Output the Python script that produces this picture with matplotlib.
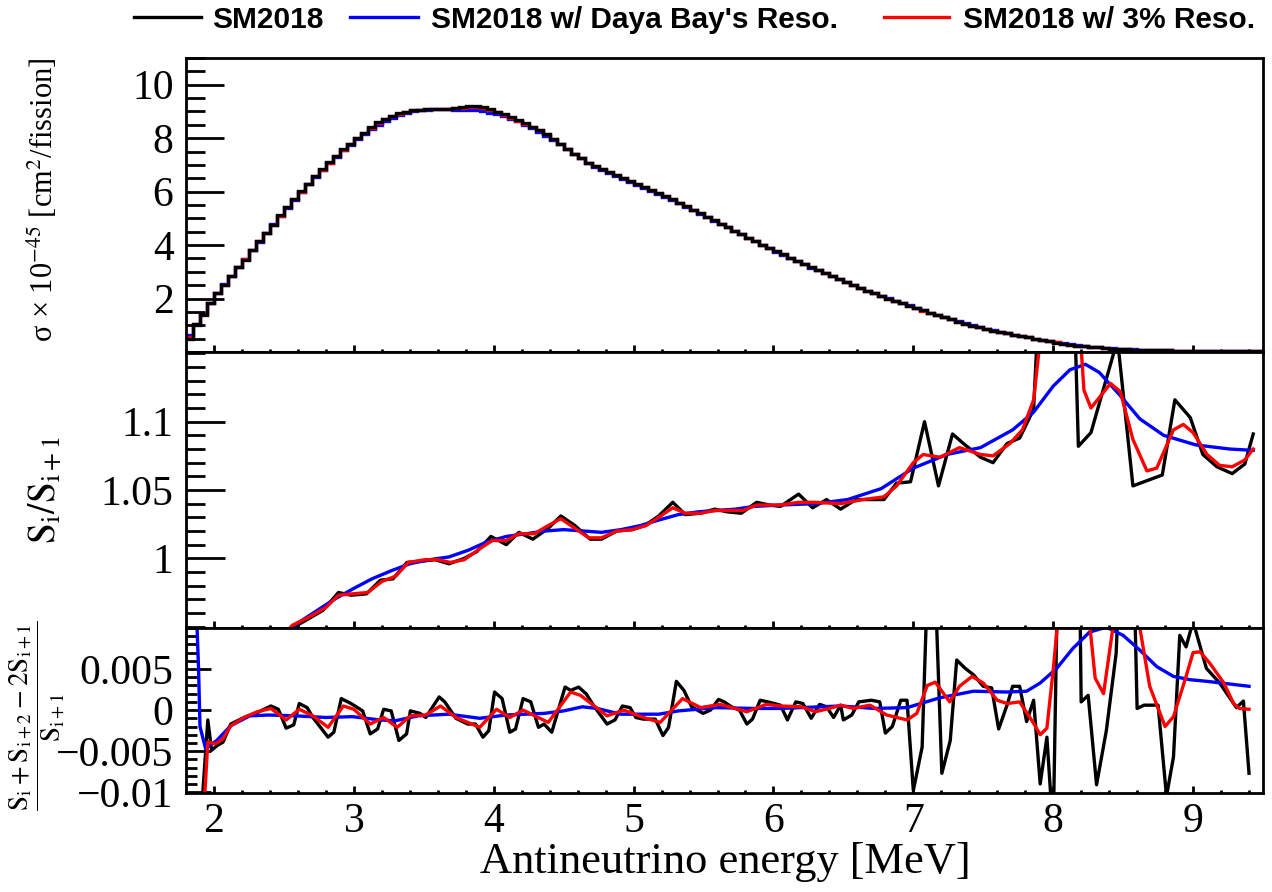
import numpy as np
import matplotlib
matplotlib.use("Agg")
import matplotlib.pyplot as plt
from matplotlib.lines import Line2D
from matplotlib.ticker import MultipleLocator, FixedLocator, FuncFormatter

plt.rcParams['font.family'] = ['Liberation Serif', 'DejaVu Serif']
plt.rcParams['mathtext.fontset'] = 'stix'
plt.rcParams['axes.unicode_minus'] = True

# ---------------- data ----------------
E_LO, E_HI, BIN_W = 1.80, 9.50, 0.05

top_sm2018 = [
    0.50, 1.06, 1.40, 1.85, 2.19, 2.52, 2.83, 3.19, 3.46, 3.80,
    4.14, 4.47, 4.77, 5.11, 5.41, 5.71, 6.01, 6.30, 6.58, 6.83,
    7.11, 7.33, 7.58, 7.80, 8.02, 8.21, 8.40, 8.59, 8.71, 8.83,
    8.93, 8.99, 9.04, 9.07, 9.09, 9.10, 9.11, 9.11, 9.12, 9.16,
    9.19, 9.19, 9.15, 9.08, 8.99, 8.89, 8.78, 8.67, 8.55, 8.43,
    8.30, 8.15, 7.98, 7.80, 7.61, 7.42, 7.24, 7.08, 6.95, 6.84,
    6.73, 6.62, 6.51, 6.40, 6.29, 6.18, 6.07, 5.95, 5.83, 5.71,
    5.58, 5.45, 5.32, 5.19, 5.06, 4.93, 4.80, 4.67, 4.54, 4.41,
    4.28, 4.15, 4.02, 3.89, 3.77, 3.65, 3.53, 3.41, 3.29, 3.17,
    3.05, 2.94, 2.83, 2.72, 2.61, 2.50, 2.40, 2.30, 2.20, 2.10,
    2.00, 1.91, 1.82, 1.73, 1.64, 1.56, 1.45, 1.38, 1.31, 1.22,
    1.14, 1.06, 0.99, 0.92, 0.86, 0.80, 0.75, 0.70, 0.65, 0.60,
    0.55, 0.50, 0.45, 0.40, 0.35, 0.31, 0.27, 0.23, 0.21, 0.19,
    0.17, 0.15, 0.13, 0.11, 0.10, 0.09, 0.08, 0.075, 0.07, 0.065,
    0.06, 0.054, 0.048, 0.044, 0.04, 0.037, 0.034, 0.032, 0.03, 0.028,
    0.026, 0.024, 0.022, 0.02]

top_dyb = [
    0.62, 1.02, 1.43, 1.83, 2.20, 2.53, 2.85, 3.18, 3.49, 3.81,
    4.13, 4.45, 4.78, 5.09, 5.40, 5.70, 5.99, 6.28, 6.55, 6.81,
    7.07, 7.31, 7.54, 7.76, 7.97, 8.16, 8.34, 8.51, 8.65, 8.77,
    8.87, 8.95, 9.01, 9.05, 9.07, 9.08, 9.08, 9.08, 9.07, 9.07,
    9.06, 9.04, 9.01, 8.96, 8.90, 8.82, 8.73, 8.63, 8.51, 8.39,
    8.25, 8.10, 7.94, 7.77, 7.59, 7.41, 7.24, 7.08, 6.94, 6.82,
    6.70, 6.59, 6.48, 6.37, 6.26, 6.15, 6.04, 5.92, 5.80, 5.68,
    5.56, 5.44, 5.31, 5.18, 5.05, 4.92, 4.79, 4.66, 4.53, 4.40,
    4.27, 4.14, 4.01, 3.88, 3.76, 3.64, 3.52, 3.40, 3.28, 3.16,
    3.05, 2.94, 2.83, 2.72, 2.61, 2.50, 2.40, 2.30, 2.20, 2.10,
    2.01, 1.92, 1.83, 1.74, 1.65, 1.56, 1.47, 1.39, 1.31, 1.23,
    1.15, 1.07, 1.00, 0.93, 0.87, 0.81, 0.75, 0.70, 0.65, 0.60,
    0.55, 0.50, 0.46, 0.42, 0.38, 0.34, 0.30, 0.26, 0.23, 0.20,
    0.18, 0.16, 0.14, 0.12, 0.11, 0.10, 0.09, 0.08, 0.07, 0.065,
    0.06, 0.055, 0.05, 0.046, 0.042, 0.038, 0.035, 0.032, 0.03, 0.028,
    0.026, 0.024, 0.022, 0.02]

top_3pct = [
    0.55, 1.05, 1.41, 1.85, 2.19, 2.52, 2.84, 3.18, 3.47, 3.80,
    4.14, 4.46, 4.77, 5.10, 5.41, 5.71, 6.00, 6.29, 6.57, 6.82,
    7.09, 7.33, 7.57, 7.79, 8.00, 8.20, 8.38, 8.56, 8.70, 8.82,
    8.92, 8.99, 9.04, 9.07, 9.09, 9.10, 9.11, 9.11, 9.12, 9.14,
    9.16, 9.16, 9.13, 9.07, 8.98, 8.88, 8.77, 8.66, 8.54, 8.42,
    8.29, 8.14, 7.97, 7.79, 7.60, 7.42, 7.24, 7.08, 6.95, 6.84,
    6.73, 6.62, 6.51, 6.40, 6.29, 6.18, 6.07, 5.95, 5.83, 5.71,
    5.58, 5.45, 5.32, 5.19, 5.06, 4.93, 4.80, 4.67, 4.54, 4.41,
    4.28, 4.15, 4.02, 3.89, 3.77, 3.65, 3.53, 3.41, 3.29, 3.17,
    3.05, 2.94, 2.83, 2.72, 2.61, 2.50, 2.40, 2.30, 2.20, 2.10,
    2.00, 1.91, 1.82, 1.73, 1.64, 1.55, 1.46, 1.38, 1.30, 1.22,
    1.14, 1.06, 0.99, 0.92, 0.86, 0.80, 0.75, 0.70, 0.65, 0.60,
    0.55, 0.50, 0.45, 0.40, 0.36, 0.31, 0.27, 0.24, 0.21, 0.19,
    0.17, 0.15, 0.13, 0.11, 0.10, 0.09, 0.08, 0.075, 0.07, 0.065,
    0.06, 0.054, 0.048, 0.044, 0.04, 0.037, 0.034, 0.032, 0.03, 0.028,
    0.026, 0.024, 0.022, 0.02]

# ratio S_i / S_{i+1}
ratio_sm2018_E = [2.45, 2.56, 2.68, 2.78, 2.89, 2.98, 3.09, 3.19, 3.28, 3.38,
                  3.49, 3.58, 3.68, 3.79, 3.88, 3.98, 4.09, 4.18, 4.28, 4.39,
                  4.48, 4.58, 4.69, 4.77, 4.88, 4.99, 5.08, 5.18, 5.28, 5.37,
                  5.48, 5.58, 5.67, 5.77, 5.88, 5.97, 6.05, 6.18, 6.28, 6.38,
                  6.48, 6.59, 6.68, 6.79, 6.88, 6.98, 7.08, 7.18, 7.28, 7.37,
                  7.48, 7.57, 7.67, 7.76, 7.86, 7.95, 8.12, 8.18, 8.27, 8.46,
                  8.57, 8.78, 8.87, 8.98, 9.07, 9.17, 9.28, 9.37, 9.43]
ratio_sm2018 = [0.935, 0.949, 0.956, 0.962, 0.975, 0.973, 0.974, 0.984, 0.985, 0.997,
                0.998, 0.999, 0.996, 1.000, 1.005, 1.016, 1.010, 1.019, 1.014, 1.022,
                1.031, 1.024, 1.014, 1.014, 1.020, 1.021, 1.024, 1.031, 1.041, 1.032,
                1.033, 1.036, 1.034, 1.033, 1.041, 1.039, 1.038, 1.047, 1.037, 1.043,
                1.036, 1.043, 1.043, 1.043, 1.055, 1.056, 1.100, 1.053, 1.091, 1.083,
                1.074, 1.070, 1.084, 1.088, 1.109, 1.300, 1.300, 1.082, 1.092, 1.160,
                1.053, 1.061, 1.116, 1.103, 1.076, 1.067, 1.062, 1.069, 1.091]

ratio_dyb_E = [2.50, 2.56, 2.71, 2.86, 3.00, 3.13, 3.27, 3.40, 3.54, 3.68,
               3.82, 3.95, 4.09, 4.23, 4.37, 4.50, 4.64, 4.77, 4.91, 5.05,
               5.18, 5.32, 5.46, 5.59, 5.73, 5.86, 6.05, 6.30, 6.53, 6.77,
               7.00, 7.24, 7.48, 7.71, 7.86, 8.00, 8.12, 8.23, 8.33, 8.48,
               8.62, 8.79, 9.02, 9.26, 9.43]
ratio_dyb = [0.940, 0.950, 0.960, 0.970, 0.978, 0.985, 0.991, 0.996, 0.999, 1.001,
             1.006, 1.012, 1.016, 1.018, 1.020, 1.021, 1.020, 1.019, 1.021, 1.024,
             1.028, 1.032, 1.034, 1.035, 1.036, 1.038, 1.039, 1.040, 1.043, 1.051,
             1.066, 1.076, 1.081, 1.094, 1.107, 1.126, 1.138, 1.142, 1.136, 1.119,
             1.102, 1.090, 1.083, 1.080, 1.079]

ratio_3pct_E = [2.45, 2.56, 2.68, 2.80, 2.89, 2.99, 3.10, 3.20, 3.30, 3.39,
                3.51, 3.60, 3.69, 3.79, 3.90, 3.99, 4.09, 4.18, 4.29, 4.39,
                4.48, 4.58, 4.68, 4.77, 4.88, 4.99, 5.09, 5.18, 5.28, 5.37,
                5.48, 5.58, 5.67, 5.78, 5.88, 5.97, 6.05, 6.18, 6.29, 6.48,
                6.64, 6.79, 6.88, 7.00, 7.07, 7.19, 7.33, 7.48, 7.57, 7.69,
                7.78, 7.86, 7.95, 8.17, 8.22, 8.27, 8.41, 8.48, 8.57, 8.67,
                8.74, 8.86, 8.93, 9.00, 9.10, 9.19, 9.28, 9.37, 9.43]
ratio_3pct = [0.938, 0.951, 0.957, 0.964, 0.973, 0.974, 0.975, 0.983, 0.987, 0.997,
              0.999, 0.999, 0.997, 0.999, 1.007, 1.013, 1.013, 1.018, 1.018, 1.024,
              1.029, 1.022, 1.015, 1.015, 1.020, 1.021, 1.024, 1.030, 1.037, 1.033,
              1.033, 1.035, 1.035, 1.035, 1.039, 1.039, 1.039, 1.041, 1.041, 1.040,
              1.043, 1.045, 1.053, 1.070, 1.076, 1.074, 1.081, 1.076, 1.075, 1.084,
              1.094, 1.116, 1.200, 1.200, 1.123, 1.110, 1.128, 1.122, 1.087, 1.064,
              1.066, 1.094, 1.098, 1.092, 1.076, 1.068, 1.067, 1.072, 1.080]

# second difference (S_i + S_{i+2} - 2 S_{i+1}) / S_{i+1}
d2_sm2018_E = [1.90, 1.956, 1.983, 2.024, 2.065, 2.12, 2.215, 2.31, 2.407, 2.46,
               2.516, 2.57, 2.61, 2.666, 2.707, 2.816, 2.857, 2.91, 2.98, 3.063,
               3.117, 3.17, 3.213, 3.267, 3.322, 3.377, 3.404, 3.473, 3.514, 3.61,
               3.65, 3.73, 3.814, 3.87, 3.923, 3.965, 4.006, 4.06, 4.115, 4.156,
               4.21, 4.265, 4.32, 4.36, 4.415, 4.51, 4.55, 4.607, 4.66, 4.716,
               4.81, 4.867, 4.92, 4.975, 5.016, 5.07, 5.155, 5.21, 5.25, 5.306,
               5.36, 5.415, 5.497, 5.55, 5.607, 5.648, 5.70, 5.757, 5.81, 5.85,
               5.905, 5.96, 6.05, 6.10, 6.16, 6.21, 6.27, 6.33, 6.38, 6.43,
               6.48, 6.50, 6.56, 6.61, 6.70, 6.76, 6.80, 6.85, 6.91, 6.955,
               7.00, 7.063, 7.10, 7.157, 7.204, 7.264, 7.31, 7.37, 7.43, 7.50,
               7.56, 7.61, 7.67, 7.71, 7.76, 7.81, 7.86, 7.907, 7.955, 8.00,
               8.03, 8.19, 8.20, 8.25, 8.31, 8.38, 8.45, 8.47, 8.58, 8.60,
               8.65, 8.75, 8.81, 8.86, 8.905, 8.95, 9.00, 9.095, 9.19, 9.31,
               9.36, 9.40]
d2_sm2018 = [-0.015, -0.0012, -0.0049, -0.0043, -0.0039, -0.0017, -0.0009, -0.0003, 0.0005, 0.0001,
             -0.0022, -0.0018, 0.0008, 0.0003, -0.0009, -0.0033, -0.0027, 0.0014, 0.0008, -0.0001,
             -0.0029, -0.0023, 0.0001, -0.0001, -0.0037, -0.0029, -0.0001, -0.0004, -0.0009, 0.0016,
             0.0010, -0.0010, -0.0017, -0.0017, -0.0033, -0.0025, 0.0022, 0.0014, -0.0027, -0.0023,
             0.0014, 0.0010, -0.0021, -0.0017, -0.0027, 0.0028, 0.0024, 0.0028, 0.0020, 0.0005,
             -0.0017, -0.0012, 0.0005, 0.0003, -0.0009, -0.0011, -0.0011, -0.0031, -0.0021, 0.0035,
             0.0024, 0.0004, -0.0004, 0.0000, 0.0013, 0.0010, 0.0004, 0.0000, -0.0017, -0.0011,
             0.0012, 0.0010, 0.0006, -0.0012, 0.0010, 0.0008, -0.0010, 0.0007, 0.0004, -0.0009,
             0.0006, -0.0012, -0.0006, 0.0010, 0.0012, 0.0010, -0.0028, -0.0020, 0.0012, 0.0012,
             -0.0098, -0.0045, 0.0150, 0.0150, -0.0077, -0.0037, 0.0061, 0.0051, 0.0043, 0.0029,
             0.0027, -0.0023, 0.0006, 0.0029, 0.0029, -0.0014, 0.0012, -0.0090, -0.0033, -0.0150,
             0.0150, 0.0150, 0.0010, 0.0018, -0.0091, -0.0025, 0.0069, 0.0150, 0.0150, 0.0002,
             0.0006, 0.0006, -0.0105, -0.0057, 0.0091, 0.0077, 0.0108, 0.0051, 0.0033, 0.0003,
             0.0011, -0.0077]

d2_dyb_E = [1.87, 1.875, 1.89, 1.90, 1.94, 2.02, 2.12, 2.256, 2.39, 2.585,
            2.80, 2.99, 3.186, 3.296, 3.46, 3.677, 3.90, 4.088, 4.36, 4.50,
            4.634, 4.74, 4.907, 5.18, 5.32, 5.59, 5.86, 6.05, 6.48, 6.72,
            6.955, 7.19, 7.43, 7.67, 7.81, 7.907, 8.026, 8.14, 8.26, 8.38,
            8.50, 8.62, 8.74, 8.86, 8.98, 9.10, 9.40]
d2_dyb = [0.015, 0.012, 0.0049, -0.0020, -0.0047, -0.0037, -0.0019, -0.0007, -0.0006, -0.0007,
          -0.0009, -0.0008, -0.0012, -0.0013, -0.0007, -0.0005, -0.0010, -0.0006, -0.0004, -0.0001,
          0.0004, 0.0002, -0.0005, -0.0005, -0.0001, 0.0003, 0.0002, 0.0002, 0.0005, 0.0002,
          0.0003, 0.0015, 0.0023, 0.0022, 0.0023, 0.0033, 0.0051, 0.0075, 0.0095, 0.0101,
          0.0091, 0.0073, 0.0053, 0.0041, 0.0037, 0.0035, 0.0029]

d2_3pct_E = [1.925, 1.956, 2.01, 2.065, 2.12, 2.215, 2.31, 2.407, 2.516, 2.61,
             2.707, 2.816, 2.925, 3.00, 3.117, 3.213, 3.31, 3.404, 3.514, 3.62,
             3.73, 3.90, 4.02, 4.115, 4.21, 4.39, 4.55, 4.62, 4.81, 4.93,
             5.07, 5.19, 5.35, 5.48, 5.62, 5.81, 5.95, 6.05, 6.20, 6.30,
             6.40, 6.48, 6.57, 6.69, 6.81, 6.955, 7.025, 7.10, 7.157, 7.26,
             7.33, 7.42, 7.50, 7.60, 7.67, 7.76, 7.86, 7.907, 7.955, 8.00,
             8.05, 8.24, 8.30, 8.36, 8.46, 8.58, 8.69, 8.80, 8.86, 8.95,
             9.00, 9.05, 9.12, 9.22, 9.29, 9.33, 9.40]
d2_3pct = [-0.013, -0.0039, -0.0041, -0.0035, -0.0019, -0.0009, -0.0002, 0.0002, -0.0012, 0.0001,
           -0.0007, -0.0021, 0.0005, 0.0001, -0.0017, -0.0009, -0.0021, -0.0007, -0.0006, 0.0005,
           -0.0009, -0.0021, 0.0001, -0.0009, 0.0000, -0.0015, 0.0022, 0.0018, -0.0007, 0.0000,
           -0.0009, -0.0015, 0.0014, 0.0003, 0.0007, -0.0002, 0.0007, 0.0005, 0.0004, -0.0002,
           0.0002, 0.0006, 0.0002, 0.0006, -0.0006, -0.0012, -0.0004, 0.0030, 0.0034, 0.0010,
           0.0029, 0.0041, 0.0033, 0.0012, 0.0008, 0.0010, -0.0016, -0.0030, -0.0022, 0.0049,
           0.0140, 0.0140, 0.0039, 0.0020, 0.0140, 0.0140, 0.0029, -0.0020, -0.0008, 0.0041,
           0.0070, 0.0071, 0.0057, 0.0033, 0.0008, 0.0002, 0.0001]

legend_labels = ["SM2018", "SM2018 w/ Daya Bay's Reso.", "SM2018 w/ 3% Reso."]
colors = ['#000000', '#0000ff', '#ff0000']

x_major = [2, 3, 4, 5, 6, 7, 8, 9]
top_yticks = [2, 4, 6, 8, 10]
mid_yticks = [1.0, 1.05, 1.1]
bot_yticks = [-0.01, -0.005, 0.0, 0.005]

# ---------------- figure ----------------
W, H = 1272, 892
fig = plt.figure(figsize=(W / 100, H / 100), dpi=100)
L, R = 186 / W, 1263 / W


def fy(px):
    return 1 - px / H


ax1 = fig.add_axes([L, fy(352), R - L, fy(58) - fy(352)])
ax2 = fig.add_axes([L, fy(628), R - L, fy(352) - fy(628)])
ax3 = fig.add_axes([L, fy(793), R - L, fy(628) - fy(793)])

edges = np.linspace(E_LO, E_HI, len(top_sm2018) + 1)
LW = 2.4
ax1.stairs(top_dyb, edges, baseline=None, color=colors[1], lw=LW)
ax1.stairs(top_3pct, edges, baseline=None, color=colors[2], lw=LW)
ax1.stairs(top_sm2018, edges, baseline=None, color=colors[0], lw=LW)

ax2.plot(ratio_sm2018_E, ratio_sm2018, color=colors[0], lw=LW)
ax2.plot(ratio_dyb_E, ratio_dyb, color=colors[1], lw=LW)
ax2.plot(ratio_3pct_E, ratio_3pct, color=colors[2], lw=LW)

ax3.plot(d2_sm2018_E, d2_sm2018, color=colors[0], lw=LW)
ax3.plot(d2_dyb_E, d2_dyb, color=colors[1], lw=LW)
ax3.plot(d2_3pct_E, d2_3pct, color=colors[2], lw=LW)

ax1.set_ylim(0, 11)
ax2.set_ylim(0.949, 1.151)
ax3.set_ylim(-0.0101, 0.0100)

TICKFS = 30


def fmt(v, pos):
    s = f"{v:g}"
    return s.replace('-', '\u2212')


for ax, yt, ymin, ymaj_len, ymin_len in [
        (ax1, top_yticks, 0.5, 27, 14),
        (ax2, mid_yticks, 0.01, 28, 14),
        (ax3, bot_yticks, 0.001, 18, 8)]:
    ax.set_xlim(E_LO, E_HI)
    ax.xaxis.set_major_locator(FixedLocator(x_major))
    ax.xaxis.set_minor_locator(MultipleLocator(0.2))
    ax.yaxis.set_major_locator(FixedLocator(yt))
    ax.yaxis.set_minor_locator(MultipleLocator(ymin))
    ax.yaxis.set_major_formatter(FuncFormatter(fmt))
    for s in ax.spines.values():
        s.set_linewidth(2.0)
    ax.tick_params(axis='y', which='major', direction='in', length=ymaj_len, width=2.0,
                   labelsize=TICKFS, pad=9)
    ax.tick_params(axis='y', which='minor', direction='in', length=ymin_len, width=2.0)
    ax.tick_params(axis='x', which='major', direction='in', length=5, width=2.0,
                   labelsize=TICKFS, pad=7)
    ax.tick_params(axis='x', which='minor', direction='in', length=2.5, width=2.0)
    ax.tick_params(top=False, right=False)

ax1.tick_params(labelbottom=False)
ax2.tick_params(labelbottom=False)

# axis titles
fig.text(725 / W, fy(862), 'Antineutrino energy [MeV]', fontsize=32,
         ha='center', va='center')
fig.text(42 / W, fy(200), 'σ × 10$^{\\mathrm{-45}}$ [cm$^{\\mathrm{2}}$/fission]',
         fontsize=22, rotation=90, ha='center', va='center')
fig.text(45 / W, fy(490), r'$\mathrm{S_{i}/S_{i+1}}$', fontsize=27, rotation=90,
         ha='center', va='center')
fig.text(37 / W, fy(716), r'$\dfrac{\mathrm{S_{i}+S_{i+2}-2S_{i+1}}}{\mathrm{S_{i+1}}}$',
         fontsize=19.5, rotation=90, ha='center', va='center')

# legend (above the plot)
leg_items = [(134, 201, 212), (350, 418, 431), (884, 949, 963)]
for (x0, x1, xt), lab, c in zip(leg_items, legend_labels, colors):
    fig.add_artist(Line2D([x0 / W, x1 / W], [fy(17), fy(17)], color=c, lw=2.4,
                          transform=fig.transFigure))
    fig.text(xt / W, fy(28), lab, fontsize=21.5, fontweight='bold',
             family=['Liberation Sans', 'DejaVu Sans'], ha='left', va='baseline')

fig.savefig('out.png', dpi=100)
